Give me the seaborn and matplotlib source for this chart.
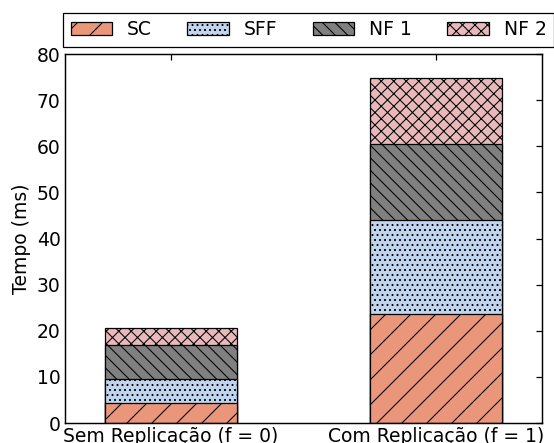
import pandas as pd
import seaborn as sns
import matplotlib.pyplot as plt
import matplotlib.patches as mpatches

# Data
categories = ["Sem Replicação (f = 0)", "Com Replicação (f = 1)"]
sc = [4.3, 23.6]
sff = [5.3, 20.5]
nf1 = [7.4, 16.3]
nf2 = [3.6, 14.3]

series = ["SC", "SFF", "NF 1", "NF 2"]
colors = ["#E9967A", "#C0D4EE", "#808080", "#E8B9BB"]
hatches = ["//", ".....", "\\\\\\\\", "xxxx"]

sns.set_style("white")
plt.rcParams["font.family"] = ["DejaVu Sans"]
plt.rcParams["hatch.linewidth"] = 0.5
plt.rcParams["xtick.direction"] = "in"
plt.rcParams["ytick.direction"] = "in"
for k in ["text.color", "axes.labelcolor", "xtick.color", "ytick.color"]:
    plt.rcParams[k] = "black"

df = pd.DataFrame({"cat": categories, "SC": sc, "SFF": sff, "NF 1": nf1, "NF 2": nf2})
# cumulative totals, drawn from top down so lower layers cover upper ones
cum = df[series].cumsum(axis=1)

fig = plt.figure(figsize=(554 / 150, 443 / 150), dpi=150)
ax = fig.add_axes([0.117, 0.045, 0.861, 0.833])

for i in reversed(range(len(series))):
    sns.barplot(x=df["cat"], y=cum[series[i]], color=colors[i], width=0.5,
                edgecolor="black", linewidth=0.6, saturation=1, ax=ax)
    for p in ax.containers[-1].patches:
        p.set_hatch(hatches[i])

ax.set_xlim(-0.4, 1.4)
ax.set_ylim(0, 80)
ax.set_xlabel("")
ax.set_ylabel("Tempo (ms)", fontsize=9, labelpad=3)
ax.tick_params(labelsize=9, top=True, right=True, length=3, width=0.6, pad=2)
for s in ax.spines.values():
    s.set_color("black")
    s.set_linewidth(0.7)

handles = [mpatches.Patch(facecolor=c, edgecolor="black", linewidth=0.6, hatch=h, label=l)
           for c, h, l in zip(colors, hatches, series)]
leg = fig.legend(handles=handles, ncol=4, loc="lower left",
                 bbox_to_anchor=(0.114, 0.894, 0.886, 0.0745), mode="expand",
                 borderaxespad=0, fancybox=False, framealpha=1, edgecolor="black",
                 fontsize=9, handlelength=2.2)
leg.get_frame().set_linewidth(0.6)

plt.savefig("out.png", dpi=150)
